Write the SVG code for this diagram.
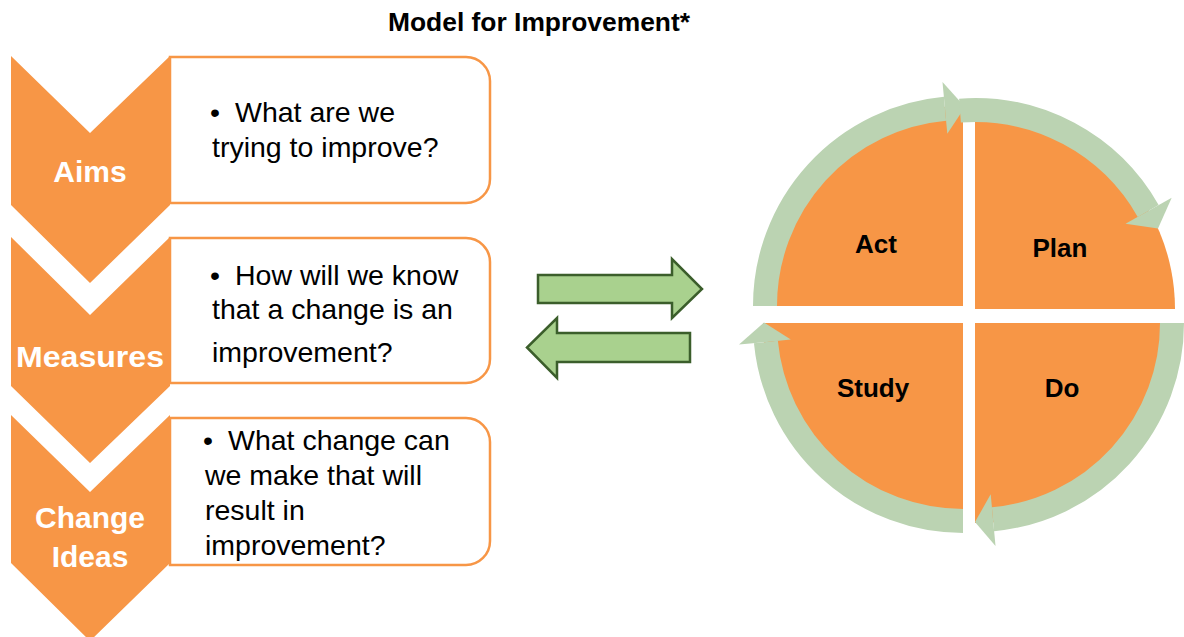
<svg xmlns="http://www.w3.org/2000/svg" width="1184" height="637" viewBox="0 0 1184 637">
<style>
  .box{fill:#ffffff;stroke:#F79646;stroke-width:2.5}
  .chev{fill:#F79646}
  .body{font-family:"Liberation Sans",Arial,sans-serif;font-size:28.5px;fill:#000000}
  .lab{font-family:"Liberation Sans",Arial,sans-serif;font-size:30px;font-weight:bold;fill:#ffffff;text-anchor:middle}
  .qlab{font-family:"Liberation Sans",Arial,sans-serif;font-size:26px;font-weight:bold;fill:#000000;text-anchor:middle}
  .title{font-family:"Liberation Sans",Arial,sans-serif;font-size:25px;font-weight:bold;fill:#000000;text-anchor:middle}
  .pie{fill:#F79646}
  .ring{fill:none;stroke:#BBD3B2;stroke-width:24}
  .ringhead{fill:#BBD3B2}
  .bigarrow{fill:#A9D18E;stroke:#3B5E2B;stroke-width:2.5;stroke-linejoin:miter}
</style>
<rect width="1184" height="637" fill="#ffffff"/>
<text class="title" x="539" y="31" textLength="302" lengthAdjust="spacingAndGlyphs">Model for Improvement*</text>

<g id="aims">
  <path class="box" d="M170,57 H466 A24,24 0 0 1 490,81 V179 A24,24 0 0 1 466,203 H170 Z"/>
  <path class="chev" d="M11,56 L90,133 L170,56 L170,205 L90,283 L11,205 Z"/>
  <text class="lab" x="90" y="182">Aims</text>
  <text class="body" x="210" y="122">•</text>
  <text class="body" x="235" y="122">What are we</text>
  <text class="body" x="212" y="157">trying to improve?</text>
</g>

<g id="measures">
  <path class="box" d="M170,238 H466 A24,24 0 0 1 490,262 V359 A24,24 0 0 1 466,383 H170 Z"/>
  <path class="chev" d="M11,237 L90,315 L170,237 L170,386 L90,463 L11,386 Z"/>
  <text class="lab" x="90" y="367" textLength="148" lengthAdjust="spacingAndGlyphs">Measures</text>
  <text class="body" x="210" y="285">•</text>
  <text class="body" x="235" y="285">How will we know</text>
  <text class="body" x="212" y="319">that a change is an</text>
  <text class="body" x="212" y="362">improvement?</text>
</g>

<g id="change-ideas">
  <path class="box" d="M170,418 H466 A24,24 0 0 1 490,442 V541 A24,24 0 0 1 466,565 H170 Z"/>
  <path class="chev" d="M11,415 L90,492 L170,415 L170,563 L90,641 L11,563 Z"/>
  <text class="lab" x="90" y="528">Change</text>
  <text class="lab" x="90" y="567">Ideas</text>
  <text class="body" x="203" y="450">•</text>
  <text class="body" x="228" y="450">What change can</text>
  <text class="body" x="205" y="485">we make that will</text>
  <text class="body" x="205" y="520">result in</text>
  <text class="body" x="205" y="555">improvement?</text>
</g>

<g id="exchange-arrows">
  <path class="bigarrow" d="M538,275 H672 V259 L702,289 L672,318 V303 H538 Z"/>
  <path class="bigarrow" d="M690,333 H557 V318 L527,347.5 L557,378 V362 H690 Z"/>
</g>

<g id="act">
  <path class="pie" d="M963,306 H763 A200,200 0 0 1 963,106 Z"/>
</g>
<g id="plan">
  <path class="pie" d="M975,309 V109 A200,200 0 0 1 1175,309 Z"/>
</g>
<g id="do">
  <path class="pie" d="M975,323 H1175 A200,200 0 0 1 975,523 Z"/>
</g>
<g id="study">
  <path class="pie" d="M963,323 V523 A200,200 0 0 1 763,323 Z"/>
</g>

<g id="cycle-connectors">
  <path class="ring" d="M765,306 A198,198 0 0 1 945,108.8"/>
  <polygon class="ringhead" points="947.3,133.7 942.5,81.9 965,107"/>
  <path class="ring" d="M960,110.6 A199,199 0 0 1 1148.2,211"/>
  <polygon class="ringhead" points="1125.5,223.8 1171.7,197.7 1158,228.4"/>
  <path class="ring" d="M1172,323 A197,197 0 0 1 993,519.2"/>
  <polygon class="ringhead" points="990.7,494.3 995.5,546.1 975,522"/>
  <path class="ring" d="M963,521 A198,198 0 0 1 765.9,342"/>
  <polygon class="ringhead" points="790.8,339.6 739,344.6 764,322.5"/>
</g>

<g id="quadrant-labels">
  <text class="qlab" x="876" y="253">Act</text>
  <text class="qlab" x="1060" y="257">Plan</text>
  <text class="qlab" x="873" y="397">Study</text>
  <text class="qlab" x="1062" y="397">Do</text>
</g>
</svg>
